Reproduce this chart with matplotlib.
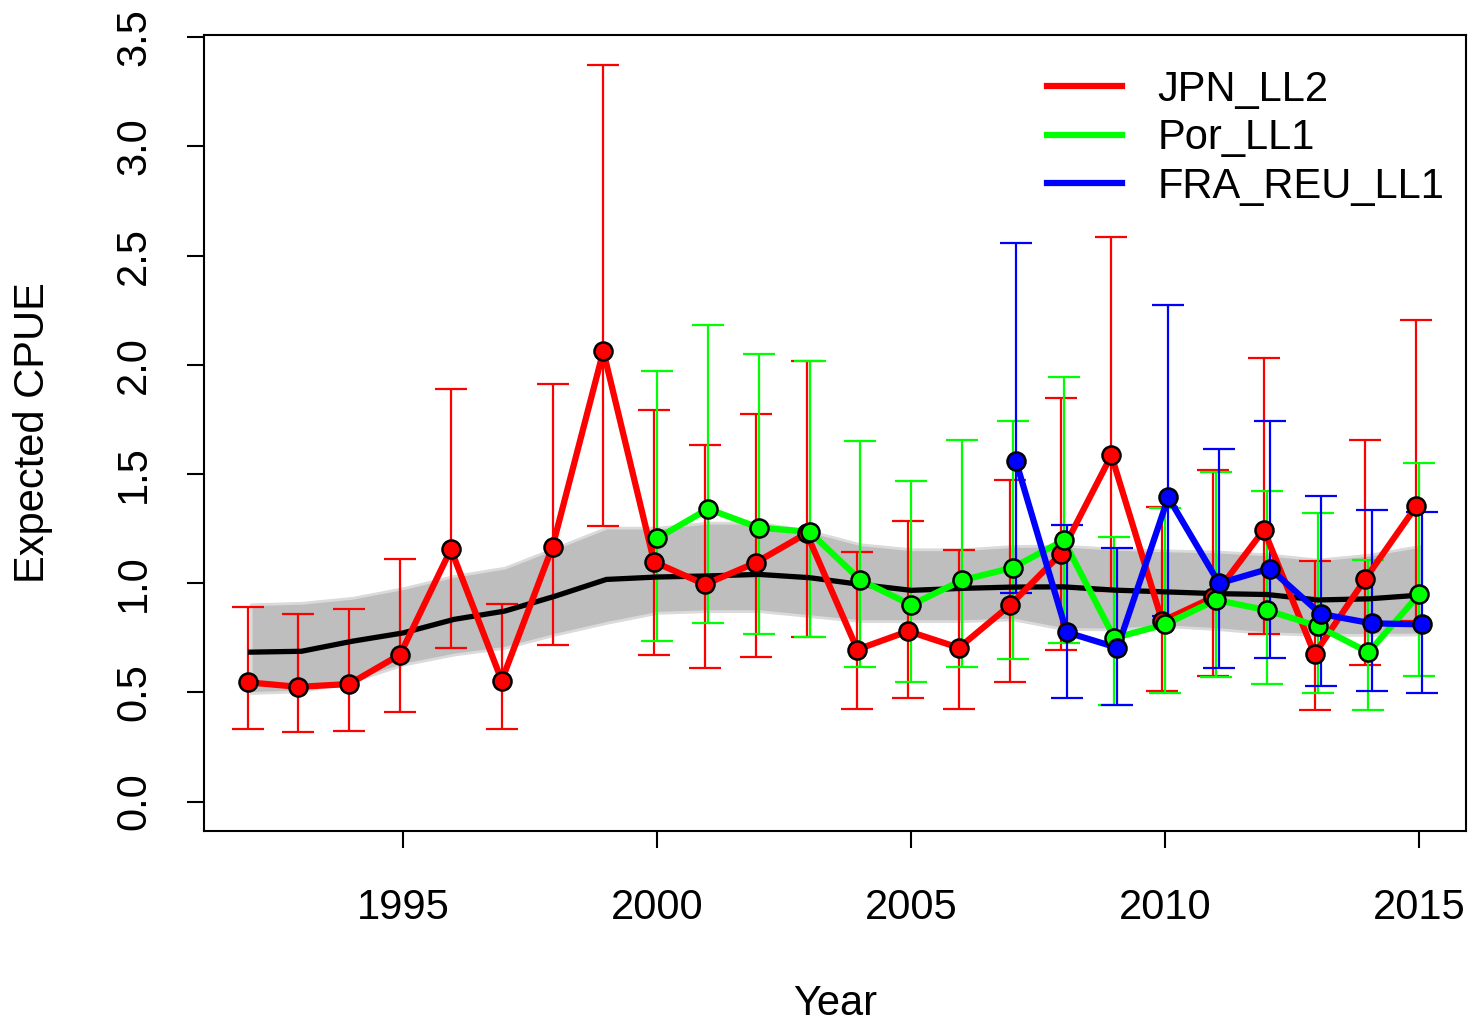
import numpy as np
import matplotlib
matplotlib.use('Agg')
import matplotlib.pyplot as plt

plt.rcParams['font.family'] = ['Liberation Sans', 'DejaVu Sans']

# JPN_LL2 (1992-2015)
jpn_years = np.arange(1992, 2016)
jpn_est = [0.546, 0.525, 0.538, 0.673, 1.155, 0.554, 1.167, 2.062, 1.097, 0.994, 1.094, 1.228,
           0.696, 0.780, 0.704, 0.898, 1.133, 1.585, 0.826, 0.935, 1.244, 0.675, 1.020, 1.352]
jpn_lo = [0.332, 0.317, 0.324, 0.410, 0.704, 0.332, 0.719, 1.262, 0.669, 0.612, 0.661, 0.754,
          0.425, 0.474, 0.425, 0.549, 0.694, 0.965, 0.505, 0.576, 0.768, 0.419, 0.624, 0.826]
jpn_hi = [0.890, 0.860, 0.883, 1.112, 1.889, 0.903, 1.912, 3.373, 1.793, 1.634, 1.776, 2.015,
          1.143, 1.284, 1.150, 1.470, 1.849, 2.585, 1.350, 1.520, 2.033, 1.103, 1.657, 2.205]

# Por_LL1 (2000-2015)
por_years = np.arange(2000, 2016)
por_est = [1.205, 1.340, 1.254, 1.235, 1.014, 0.900, 1.013, 1.071, 1.196, 0.749, 0.811, 0.923,
           0.876, 0.803, 0.683, 0.949]
por_lo = [0.733, 0.818, 0.768, 0.754, 0.618, 0.548, 0.618, 0.653, 0.728, 0.443, 0.497, 0.568,
          0.539, 0.499, 0.419, 0.577]
por_hi = [1.970, 2.184, 2.050, 2.018, 1.649, 1.469, 1.657, 1.743, 1.944, 1.209, 1.343, 1.508,
          1.423, 1.319, 1.108, 1.551]

# FRA_REU_LL1 (2007-2015)
fra_years = np.arange(2007, 2016)
fra_est = [1.560, 0.775, 0.704, 1.393, 0.999, 1.067, 0.859, 0.816, 0.811]
fra_lo = [0.955, 0.475, 0.443, 0.849, 0.611, 0.656, 0.531, 0.504, 0.497]
fra_hi = [2.556, 1.265, 1.159, 2.272, 1.612, 1.743, 1.400, 1.337, 1.328]

# common trend and its band
trend_years = np.arange(1992, 2016)
trend = [0.684, 0.688, 0.734, 0.772, 0.834, 0.872, 0.941, 1.017, 1.028, 1.033, 1.040, 1.025,
         0.994, 0.967, 0.976, 0.982, 0.983, 0.968, 0.960, 0.952, 0.948, 0.923, 0.928, 0.945]
band_hi = [0.903, 0.910, 0.933, 0.977, 1.033, 1.071, 1.162, 1.254, 1.254, 1.277, 1.277, 1.239,
           1.178, 1.155, 1.155, 1.170, 1.172, 1.157, 1.150, 1.145, 1.132, 1.108, 1.130, 1.170]
band_lo = [0.497, 0.505, 0.551, 0.627, 0.673, 0.704, 0.765, 0.818, 0.864, 0.872, 0.872, 0.849,
           0.826, 0.826, 0.826, 0.834, 0.790, 0.788, 0.803, 0.790, 0.771, 0.763, 0.763, 0.765]

series = [
    ('JPN_LL2', jpn_years, jpn_est, jpn_lo, jpn_hi, '#ff0000', -0.06),
    ('Por_LL1', por_years, por_est, por_lo, por_hi, '#00ff00', 0.0),
    ('FRA_REU_LL1', fra_years, fra_est, fra_lo, fra_hi, '#0000ff', 0.06),
]

fs = 30

fig = plt.figure(figsize=(14.74, 10.26), dpi=100)
ax = fig.add_axes([204 / 1474, 1 - 831 / 1026, (1466 - 204) / 1474, (831 - 35) / 1026])

ax.fill_between(trend_years, band_lo, band_hi, facecolor='#bebebe', edgecolor='#dadada',
                linewidth=2, zorder=1)

for name, yr, est, lo, hi, col, off in series:
    est = np.array(est)
    ax.errorbar(yr + off, est, yerr=[est - np.array(lo), np.array(hi) - est], fmt='none',
                ecolor=col, elinewidth=1.6, capsize=11.5, capthick=1.6, zorder=2)

ax.plot(trend_years, trend, color='black', lw=3.8, zorder=3)

handles = []
for name, yr, est, lo, hi, col, off in series:
    ax.plot(yr + off, est, color=col, lw=4.5, zorder=4)
    ax.plot(yr + off, est, 'o', ms=13, mfc=col, mec='black', mew=1.8, zorder=5)
    handles.append(plt.Line2D([], [], color=col, lw=4.5))

ax.set_xlim(1991.08, 2015.92)
ax.set_ylim(-0.135, 3.51)
ax.set_xticks([1995, 2000, 2005, 2010, 2015])
ax.set_yticks(np.arange(0, 3.51, 0.5))
ax.set_yticklabels([f'{v:.1f}' for v in np.arange(0, 3.51, 0.5)], rotation=90, va='center')
ax.tick_params(axis='both', labelsize=fs, length=12, width=1.5)
ax.tick_params(axis='x', pad=29)
ax.tick_params(axis='y', pad=24)
for s in ax.spines.values():
    s.set_linewidth(1.5)

ax.set_xlabel('Year', fontsize=fs)
ax.xaxis.label.set_va('center')
ax.xaxis.set_label_coords(0.5, (831 - 1004) / 796)
ax.set_ylabel('Expected CPUE', fontsize=fs)
ax.yaxis.label.set_va('center')
ax.yaxis.set_label_coords((33 - 204) / 1262, 0.5)

ax.legend(handles, [s[0] for s in series], loc='upper left', fontsize=fs, frameon=False,
          bbox_to_anchor=(1047 / 1474, 1 - 70 / 1026), bbox_transform=fig.transFigure,
          borderpad=0, borderaxespad=0, handlelength=1.8, handletextpad=0.85, labelspacing=0.2)

fig.savefig('out.png', dpi=100)
